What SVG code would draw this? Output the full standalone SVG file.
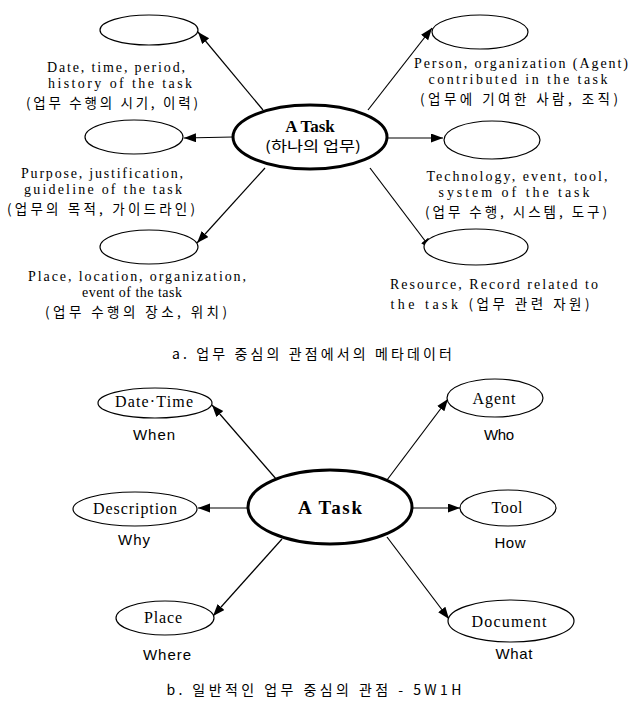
<svg xmlns="http://www.w3.org/2000/svg" width="631" height="706" viewBox="0 0 631 706">
<style>
.bg{fill:#fff}
.n{fill:#fff;stroke:#000;stroke-width:1.2}
.c{fill:#fff;stroke:#000;stroke-width:3}
.e{stroke:#000;stroke-width:1.2;fill:none;marker-end:url(#ah)}
.t{font-family:"Liberation Serif","Noto Sans CJK KR",serif;font-size:16px;fill:#000;text-anchor:middle}
.d{font-size:14px}
.k{font-family:"Noto Sans CJK KR","Liberation Sans",sans-serif;font-size:14px;fill:#000;text-anchor:middle}
.m{font-size:13.5px}
.b{font-weight:bold;font-size:17px}
.s{font-family:"Liberation Sans","Noto Sans CJK KR",sans-serif;font-size:15px;fill:#000;text-anchor:middle}
</style>
<defs>
<marker id="ah" markerUnits="userSpaceOnUse" markerWidth="13" markerHeight="10" refX="12" refY="4.5" orient="auto">
<path d="M0,0 L12,4.5 L0,9 z" fill="#000"/>
</marker>
</defs>
<rect class="bg" x="0" y="0" width="631" height="706"/>
<g id="connectors">
<line class="e" x1="263" y1="110" x2="198" y2="32"/>
<line class="e" x1="233" y1="137" x2="184" y2="138"/>
<line class="e" x1="265" y1="168" x2="197" y2="243"/>
<line class="e" x1="368" y1="110" x2="432" y2="28"/>
<line class="e" x1="387" y1="138" x2="443" y2="138"/>
<line class="e" x1="370" y1="168" x2="432" y2="250"/>
<line class="e" x1="277" y1="480" x2="212" y2="405"/>
<line class="e" x1="249" y1="508" x2="198" y2="508"/>
<line class="e" x1="282" y1="539" x2="213" y2="616"/>
<line class="e" x1="387" y1="480" x2="448" y2="399"/>
<line class="e" x1="412" y1="508" x2="460" y2="508"/>
<line class="e" x1="387" y1="537" x2="449" y2="619"/>
</g>
<g id="task-a">
<ellipse class="c" cx="310" cy="137" rx="77" ry="32"/>
<text class="t b" x="310" y="132">A Task</text>
<text class="k" x="313" y="151" textLength="96" lengthAdjust="spacingAndGlyphs">(하나의 업무)</text>
</g>
<g id="when-a">
<ellipse class="n" cx="149" cy="30" rx="49" ry="15"/>
<text class="t d" x="116" y="72" textLength="138">Date, time, period,</text>
<text class="t d" x="120" y="88" textLength="144">history of the task</text>
<text class="k m" x="112" y="107.5" textLength="172">(업무 수행의 시기, 이력)</text>
</g>
<g id="why-a">
<ellipse class="n" cx="134" cy="137" rx="49" ry="17"/>
<text class="t d" x="102" y="178" textLength="162">Purpose, justification,</text>
<text class="t d" x="103" y="194" textLength="158">guideline of the task</text>
<text class="k m" x="101" y="213.5" textLength="188">(업무의 목적, 가이드라인)</text>
</g>
<g id="where-a">
<ellipse class="n" cx="149" cy="247" rx="49" ry="17"/>
<text class="t d" x="137" y="281" textLength="218">Place, location, organization,</text>
<text class="t d" x="132" y="297" textLength="100">event of the task</text>
<text class="k m" x="136" y="316.5" textLength="182">(업무 수행의 장소, 위치)</text>
</g>
<g id="who-a">
<ellipse class="n" cx="480" cy="32" rx="48" ry="17"/>
<text class="t d" x="521" y="68" textLength="214">Person, organization (Agent)</text>
<text class="t d" x="518" y="84" textLength="179">contributed in the task</text>
<text class="k m" x="519" y="103.5" textLength="198">(업무에 기여한 사람, 조직)</text>
</g>
<g id="how-a">
<ellipse class="n" cx="492" cy="140" rx="48" ry="19"/>
<text class="t d" x="517" y="181" textLength="181">Technology, event, tool,</text>
<text class="t d" x="514" y="197" textLength="151">system of the task</text>
<text class="k m" x="516" y="216.5" textLength="182">(업무 수행, 시스템, 도구)</text>
</g>
<g id="what-a">
<ellipse class="n" cx="476" cy="247" rx="52" ry="18"/>
<text class="t d" x="494" y="289" textLength="208">Resource, Record related to</text>
<text class="t d" x="490" y="309" textLength="199">the task <tspan class="k" style="font-size:13.5px">(업무 관련 자원)</tspan></text>
</g>
<text class="k" x="312" y="359" textLength="280">a. 업무 중심의 관점에서의 메타데이터</text>
<g id="task-b">
<ellipse class="c" cx="330" cy="507" rx="82" ry="37"/>
<text class="t b" x="330" y="514" style="font-size:19px" textLength="64">A Task</text>
</g>
<g id="when-b">
<ellipse class="n" cx="155" cy="403" rx="57" ry="15"/>
<text class="t" x="154" y="407" textLength="78">Date·Time</text>
<text class="s" x="154" y="440" textLength="42">When</text>
</g>
<g id="why-b">
<ellipse class="n" cx="135" cy="509" rx="62" ry="17"/>
<text class="t" x="135" y="514" textLength="84">Description</text>
<text class="s" x="134" y="545" textLength="32">Why</text>
</g>
<g id="where-b">
<ellipse class="n" cx="165" cy="618" rx="49" ry="17"/>
<text class="t" x="163" y="623" textLength="38">Place</text>
<text class="s" x="167" y="660" textLength="48">Where</text>
</g>
<g id="who-b">
<ellipse class="n" cx="495" cy="398" rx="48" ry="19"/>
<text class="t" x="494" y="404" textLength="43">Agent</text>
<text class="s" x="499" y="440" textLength="30">Who</text>
</g>
<g id="how-b">
<ellipse class="n" cx="508" cy="508" rx="48" ry="18"/>
<text class="t" x="507" y="513" textLength="31">Tool</text>
<text class="s" x="510" y="548" textLength="31">How</text>
</g>
<g id="what-b">
<ellipse class="n" cx="511" cy="621" rx="63" ry="21"/>
<text class="t" x="509" y="627" textLength="75">Document</text>
<text class="s" x="514" y="659" textLength="37">What</text>
</g>
<text class="k" x="314" y="695" textLength="295">b. 일반적인 업무 중심의 관점 - 5W1H</text>
</svg>
